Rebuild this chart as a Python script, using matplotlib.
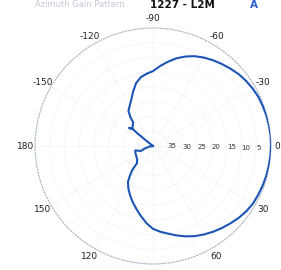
import numpy as np
import matplotlib
matplotlib.use("Agg")
import matplotlib.pyplot as plt

# Angles in degrees (0 = right, positive clockwise/downward), values = attenuation (dB)
upper_angles = [-180, -142, -141, -141, -140, -143, -140, -135, -130, -128, -125, -120, -115,
                -110, -105, -100, -95, -90, -85, -80, -75, -70, -65, -60, -55, -50, -45,
                -40, -35, -30, -25, -20, -15, -10, -5, 0]
upper_values = [40, 37.5, 35.2, 33.0, 31.2, 29.8, 30.8, 30.3, 29.5, 27.5, 25.5, 24.2, 22.6,
                20.3, 17.9, 16.3, 15.4, 14.6, 12.8, 11.0, 9.2, 7.7, 6.4, 5.4, 4.5, 3.7, 2.9,
                2.1, 1.5, 1.0, 0.6, 0.4, 0.2, 0.1, 0.0, 0.0]
lower_angles = [5, 10, 15, 20, 25, 30, 35, 40, 45, 50, 55, 60, 65, 70, 75, 80, 85, 90, 95,
                100, 105, 110, 115, 120, 125, 128, 131, 133, 140, 150, 160, 166, 158, 163,
                170, 180]
lower_values = [0.1, 0.2, 0.3, 0.5, 0.7, 0.9, 1.4, 2.1, 2.9, 3.7, 4.5, 5.4, 6.3, 7.4, 8.6,
                9.8, 10.8, 11.9, 13.8, 16.0, 18.0, 19.8, 21.6, 23.3, 25.2, 27.3, 29.4, 32.0,
                33.0, 33.4, 33.6, 33.8, 35.5, 37.0, 38.6, 40]

theta_ticks = [0, 30, 60, 90, 120, 150, 180, 210, 240, 270, 300, 330]
theta_labels = ['', '30', '60', '', '120', '150', '180', '-150', '-120', '-90', '-60', '-30']
zero_label = '0'
r_ticks = [5, 10, 15, 20, 25, 30, 35]
r_labels = ['5', '10', '15', '20', '25', '30', '35']

angles = np.deg2rad(np.array(upper_angles + lower_angles, dtype=float))
values = np.array(upper_values + lower_values, dtype=float)

fig = plt.figure(figsize=(2.81, 2.70), dpi=100)
ax = fig.add_axes([0.1246, 0.0222, 0.8399, 0.874], projection='polar')
ax.set_theta_zero_location('E')
ax.set_theta_direction(-1)
ax.set_rlim(40, 0)

ax.plot(angles, values, color='#1c55b5', lw=1.5, zorder=5)

ax.set_thetagrids(theta_ticks, theta_labels)
ax.set_rgrids(r_ticks, r_labels)
ax.set_rlabel_position(1)
ax.tick_params(axis='x', labelsize=6.5, colors='#222222', pad=-4)
ax.tick_params(axis='y', labelsize=5, colors='#333333')
for lbl in ax.get_yticklabels():
    lbl.set_horizontalalignment('left')
    lbl.set_verticalalignment('center')
ax.text(0, -2.2, zero_label, ha='center', va='center', fontsize=6.5,
        color='#222222', clip_on=False)
ax.grid(True, color='#dfe7f2', lw=0.6, ls=':')
ax.spines['polar'].set_color('#aab2be')
ax.spines['polar'].set_linestyle(':')
ax.spines['polar'].set_linewidth(0.8)

fig.text(35 / 281, 0.999, 'Azimuth Gain Pattern', ha='left', va='top',
         fontsize=6, color='#c5cbd6')
fig.text(150 / 281, 0.999, '1227 - L2M', ha='left', va='top',
         fontsize=7.5, fontweight='bold', color='#111111')
fig.text(250 / 281, 0.999, 'A', ha='left', va='top',
         fontsize=7.5, fontweight='bold', color='#2a5fd0')

fig.savefig('out.png', dpi=100)
